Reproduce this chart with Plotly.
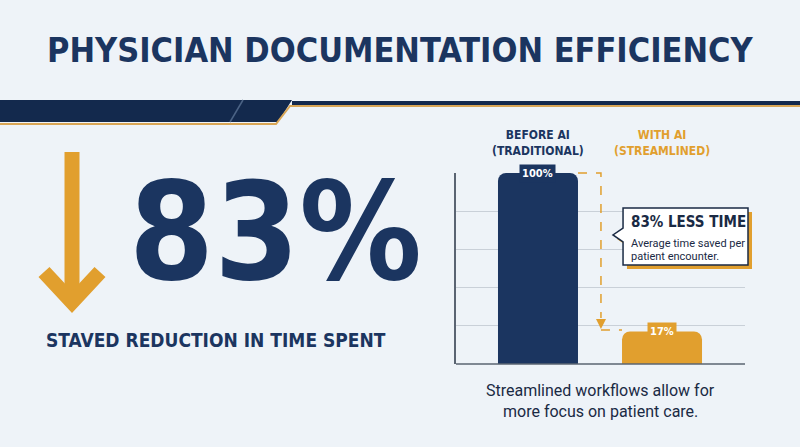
import plotly.graph_objects as go

W, H = 800, 447
NAVY = "#1b3560"
GOLD = "#e19f2e"
BG = "#eef3f8"
COND = "DejaVu Sans Condensed"

categories = ["Before AI", "With AI"]
values = [100, 17]
bar_labels = ["100%", "17%"]
bar_colors = [NAVY, GOLD]
header_lines = ["BEFORE AI<br>(TRADITIONAL)", "WITH AI<br>(STREAMLINED)"]


def px(x):
    return x / W


def py(y):
    return 1 - y / H


def path(points):
    return "M " + " L ".join(f"{px(x):.4f},{py(y):.4f}" for x, y in points)


fig = go.Figure()
xpos = list(range(len(categories)))
fig.add_trace(go.Bar(
    x=xpos, y=values, width=0.645, marker=dict(color=bar_colors, line=dict(width=0)),
    hoverinfo="skip", showlegend=False,
))

shapes = []
# header band
shapes.append(dict(type="path", xref="paper", yref="paper", layer="below",
                   path=path([(0, 100), (292, 100), (278, 122), (0, 122)]) + " Z",
                   fillcolor="#13294d", line=dict(width=0)))
shapes.append(dict(type="line", xref="paper", yref="paper", x0=px(292), x1=1, y0=py(103), y1=py(103),
                   line=dict(color="#13294d", width=4)))
shapes.append(dict(type="path", xref="paper", yref="paper",
                   path=path([(0, 124), (276, 124), (290, 106), (800, 106)]),
                   line=dict(color="#d9a656", width=2)))
shapes.append(dict(type="line", xref="paper", yref="paper", x0=px(230), x1=px(243), y0=py(122), y1=py(100),
                   line=dict(color="#4b6385", width=1.5)))

# down arrow
shapes.append(dict(type="path", xref="paper", yref="paper",
                   path=path([(72, 152), (72, 300)]), line=dict(color=GOLD, width=15)))
shapes.append(dict(type="path", xref="paper", yref="paper",
                   path=path([(44, 272), (72, 302), (100, 272)]), line=dict(color=GOLD, width=15)))

# dashed connector
shapes.append(dict(type="path", xref="paper", yref="paper",
                   path=path([(578, 173), (601, 173), (601, 318)]),
                   line=dict(color=GOLD, width=1.5, dash="dash")))
shapes.append(dict(type="path", xref="paper", yref="paper",
                   path=path([(601, 330), (622, 330)]),
                   line=dict(color=GOLD, width=1.5, dash="dash")))
shapes.append(dict(type="path", xref="paper", yref="paper",
                   path=path([(596, 319), (606, 319), (601, 329)]) + " Z",
                   fillcolor=GOLD, line=dict(width=0)))

# callout with shadow
box = [(623, 208), (748, 208), (748, 265), (623, 265), (623, 242), (613, 235), (623, 228)]
shapes.append(dict(type="path", xref="paper", yref="paper",
                   path=path([(x + 4, y + 4) for x, y in box]) + " Z", fillcolor=GOLD, line=dict(width=0)))
shapes.append(dict(type="path", xref="paper", yref="paper",
                   path=path(box) + " Z", fillcolor="white", line=dict(color="#1a2a44", width=1.5)))

annotations = []
for i, lab in enumerate(bar_labels):
    annotations.append(dict(x=xpos[i], y=values[i], xref="x", yref="y", text=f"<b>{lab}</b>",
                            showarrow=False, yanchor="middle", bgcolor=bar_colors[i], borderpad=2,
                            font=dict(family=COND, size=11, color="white")))
    annotations.append(dict(x=xpos[i], y=py(143), xref="x", yref="paper", text=f"<b>{header_lines[i]}</b>",
                            showarrow=False, yanchor="middle",
                            font=dict(family=COND, size=12, color=NAVY if i == 0 else GOLD)))


def txt(x, y, t, size, color=NAVY, family=COND, xanchor="left", bold=True):
    annotations.append(dict(x=px(x), y=py(y), xref="paper", yref="paper", showarrow=False,
                            text=f"<b>{t}</b>" if bold else t, xanchor=xanchor, yanchor="middle",
                            font=dict(family=family, size=size, color=color)))


txt(400, 50, "PHYSICIAN DOCUMENTATION EFFICIENCY", 34, xanchor="center")
txt(127, 232, "83%", 136)
txt(44, 340, "STAVED REDUCTION IN TIME SPENT", 19)
txt(629, 222, "83% LESS TIME", 15, color="#1a2a44")
txt(629, 243, "Average time saved per", 11, color="#1a2a44", family="Roboto", bold=False)
txt(629, 256, "patient encounter.", 11, color="#1a2a44", family="Roboto", bold=False)
txt(600, 390, "Streamlined workflows allow for", 16, color="#1a2a44", family="Roboto", xanchor="center", bold=False)
txt(600, 411, "more focus on patient care.", 16, color="#1a2a44", family="Roboto", xanchor="center", bold=False)

fig.update_layout(
    width=W, height=H, margin=dict(l=0, r=0, t=0, b=0),
    paper_bgcolor=BG, plot_bgcolor=BG, barcornerradius=8,
    shapes=shapes, annotations=annotations,
    xaxis=dict(domain=[px(456), px(745)], range=[-0.661, 1.669], showticklabels=False,
               showgrid=False, zeroline=False, fixedrange=True),
    yaxis=dict(domain=[py(364), py(173)], range=[0, 100], dtick=20, showticklabels=False,
               gridcolor="#c9d0d8", gridwidth=1, zeroline=False, showline=True,
               linecolor="#5a6472", linewidth=1.5, fixedrange=True),
)
# baseline
fig.add_shape(type="line", xref="paper", yref="paper", x0=px(456), x1=px(745), y0=py(364), y1=py(364),
              line=dict(color="#5a6472", width=1.5))

fig.write_html("out.html", config={"displayModeBar": False},
               post_script="document.body.style.margin='0';document.body.style.background='%s';" % BG)
